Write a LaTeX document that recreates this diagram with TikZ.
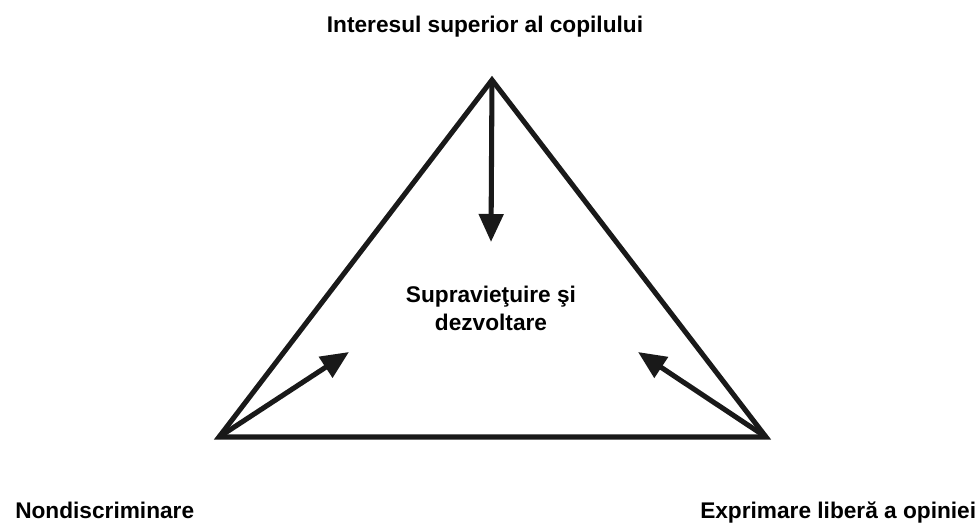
\documentclass[tikz,border=0pt]{standalone}
\usepackage{fontspec}
\setmainfont{Liberation Sans}
\usetikzlibrary{arrows.meta}
\begin{document}
\begin{tikzpicture}[x=0.75pt,y=-0.75pt,
  edge/.style={line width=3.8pt,line join=miter,black!90},
  arr/.style={line width=3.8pt,black!90,-{Triangle[length=21pt,width=18pt]}},
  lbl/.style={font=\bfseries\fontsize{17pt}{21.5pt}\selectfont,inner sep=0pt}]
\useasboundingbox (0,0) rectangle (976,524);
\coordinate (A) at (492,80);
\coordinate (L) at (219,437);
\coordinate (R) at (766,437);
\draw[edge] (A) -- (L) -- (R) -- cycle;
\coordinate (ta) at (491,242);
\coordinate (tl) at (349,352);
\coordinate (tr) at (638,352);
\draw[arr] (A) -- (ta);
\draw[arr] (L) -- (tl);
\draw[arr] (R) -- (tr);
\node[lbl,anchor=base] (top) at (485,33) {Interesul superior al copilului};
\node[lbl,anchor=base,align=center] (mid) at (491,331) {Supravieţuire şi\\dezvoltare};
\node[lbl,anchor=base west] (nd) at (15,518) {Nondiscriminare};
\node[lbl,anchor=base west] (ex) at (700,518) {Exprimare liberă a opiniei};
\end{tikzpicture}
\end{document}
